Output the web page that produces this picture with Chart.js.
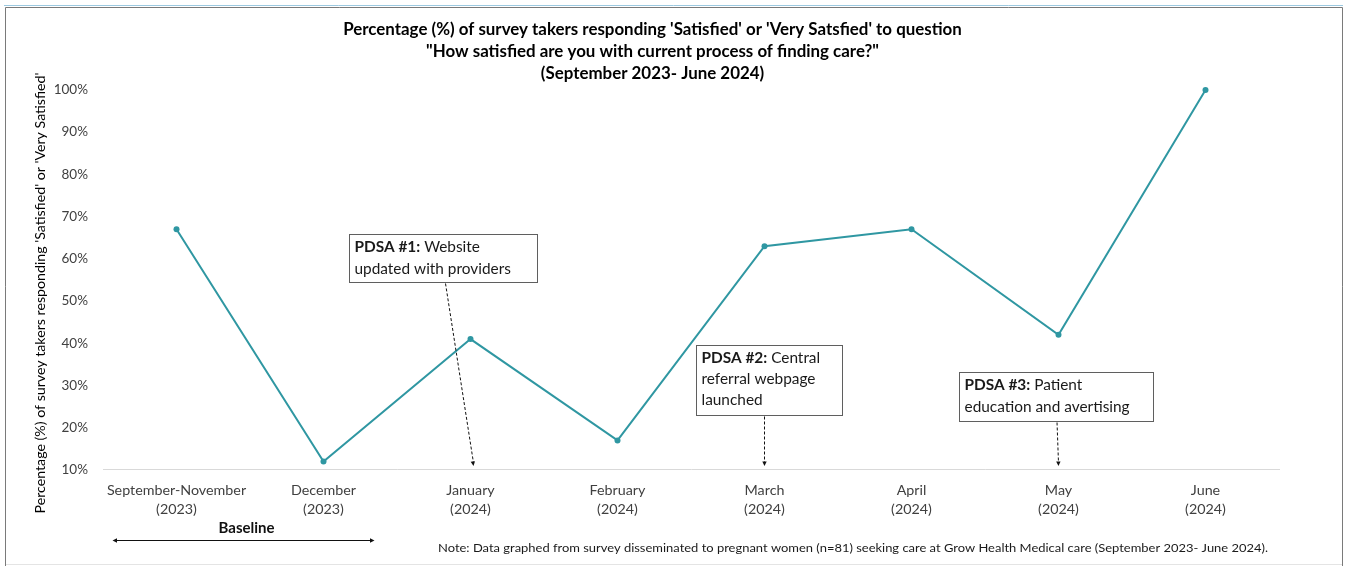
<!DOCTYPE html>
<html lang="en">
<head>
    <meta charset="UTF-8">
    <title>Satisfaction with finding care</title>
    <script src="https://cdn.jsdelivr.net/npm/chart.js@4.4.1/dist/chart.umd.min.js"></script>
    <style>
        html, body { margin: 0; padding: 0; background: #fff; }
        #wrap { position: relative; width: 1348px; height: 566px; }
    </style>
</head>
<body>
    <div id="wrap"><canvas id="chart"></canvas></div>

    <script>
        // Survey periods (two-line axis labels)
        const periods = [
            ['September-November', '(2023)'],
            ['December', '(2023)'],
            ['January', '(2024)'],
            ['February', '(2024)'],
            ['March', '(2024)'],
            ['April', '(2024)'],
            ['May', '(2024)'],
            ['June', '(2024)']
        ];
        // % answering Satisfied / Very Satisfied
        const satisfiedPct = [67, 12, 41, 17, 63, 67, 42, 100];
        const yTicks = [10, 20, 30, 40, 50, 60, 70, 80, 90, 100];

        const titleLines = [
            "Percentage (%) of survey takers responding 'Satisfied' or 'Very Satsfied' to question",
            '"How satisfied are you with current process of finding care?"',
            '(September 2023- June 2024)'
        ];
        const yTitle = "Percentage (%) of survey takers responding 'Satisfied' or 'Very Satisfied'";
        const noteText = 'Note: Data graphed from survey disseminated to pregnant women (n=81) seeking care at Grow Health Medical care (September 2023- June 2024).';

        // PDSA cycle callouts: bold lead, remaining lines, and the period each one points at
        const pdsaLeads = ['PDSA #1:', 'PDSA #2:', 'PDSA #3:'];
        const pdsaLines = [
            [' Website', 'updated with providers'],
            [' Central', 'referral webpage', 'launched'],
            [' Patient', 'education and avertising']
        ];
        const pdsaTargets = [2, 4, 6];

        // where each callout box sits (x in category units, top in axis units)
        const boxLayout = [
            { cx: 1.816, top: 65.9, w: 188, h: 48, from: 1.83, lh: 22 },
            { cx: 4.03, top: 39.6, w: 146, h: 70, from: 4.0, lh: 21 },
            { cx: 5.98, top: 33.2, w: 194, h: 49, from: 5.99, lh: 22 }
        ];

        const FONT = 'Lato, "Open Sans", sans-serif';
        const teal = '#2f97a2';

        function arrowHead(ctx, x, y, ang, size) {
            ctx.beginPath();
            ctx.moveTo(x, y);
            ctx.lineTo(x - size * Math.cos(ang - 0.45), y - size * Math.sin(ang - 0.45));
            ctx.lineTo(x - size * Math.cos(ang + 0.45), y - size * Math.sin(ang + 0.45));
            ctx.closePath();
            ctx.fill();
        }

        const extras = {
            id: 'extras',
            beforeDraw(chart) {
                const ctx = chart.ctx;
                ctx.save();
                ctx.fillStyle = '#fff';
                ctx.fillRect(0, 0, chart.width, chart.height);
                // outer frame
                ctx.strokeStyle = '#9cc9e0';
                ctx.lineWidth = 1;
                ctx.beginPath(); ctx.moveTo(4, 5.5); ctx.lineTo(1343, 5.5); ctx.stroke();
                ctx.strokeStyle = '#7a7a7a';
                ctx.beginPath();
                ctx.moveTo(5.5, 566); ctx.lineTo(5.5, 7.5); ctx.lineTo(1342.5, 7.5); ctx.lineTo(1342.5, 566);
                ctx.stroke();
                ctx.strokeStyle = '#e4e4e4';
                ctx.beginPath(); ctx.moveTo(6, 564.5); ctx.lineTo(1342, 564.5); ctx.stroke();

                // y axis title
                ctx.translate(40, 293);
                ctx.rotate(-Math.PI / 2);
                ctx.fillStyle = '#000';
                ctx.font = '14.2px ' + FONT;
                ctx.textAlign = 'center';
                ctx.textBaseline = 'middle';
                ctx.fillText(yTitle, 0, 0);
                ctx.restore();
            },
            afterDatasetsDraw(chart) {
                const ctx = chart.ctx;
                const xs = chart.scales.x, ys = chart.scales.y;
                ctx.save();

                // PDSA callouts with dashed arrows
                boxLayout.forEach((b, i) => {
                    const cx = xs.getPixelForValue(b.cx);
                    const left = Math.round(cx - b.w / 2) + 0.5;
                    const top = Math.round(ys.getPixelForValue(b.top)) + 0.5;

                    const sx = xs.getPixelForValue(b.from);
                    const tx = xs.getPixelForValue(pdsaTargets[i]) + (i === 0 ? 3 : 0);
                    const ty = ys.getPixelForValue(10) - 4;
                    const sy = top + b.h + 1;
                    ctx.strokeStyle = '#111';
                    ctx.fillStyle = '#111';
                    ctx.lineWidth = 1;
                    ctx.setLineDash([3, 2]);
                    ctx.beginPath(); ctx.moveTo(sx, sy); ctx.lineTo(tx, ty - 3); ctx.stroke();
                    ctx.setLineDash([]);
                    arrowHead(ctx, tx, ty, Math.atan2(ty - sy, tx - sx), 5);

                    ctx.fillStyle = '#fff';
                    ctx.fillRect(left, top, b.w, b.h);
                    ctx.strokeStyle = '#5f5f5f';
                    ctx.strokeRect(left, top, b.w, b.h);

                    ctx.fillStyle = '#1a1a1a';
                    ctx.textBaseline = 'middle';
                    ctx.textAlign = 'left';
                    let y = top + 13;
                    ctx.font = 'bold 15.4px ' + FONT;
                    ctx.fillText(pdsaLeads[i], left + 5, y);
                    const lw = ctx.measureText(pdsaLeads[i]).width;
                    ctx.font = '15.4px ' + FONT;
                    ctx.fillText(pdsaLines[i][0], left + 5 + lw, y);
                    for (let k = 1; k < pdsaLines[i].length; k++) {
                        y += b.lh;
                        ctx.fillText(pdsaLines[i][k], left + 5, y);
                    }
                });
                ctx.restore();
            },
            afterDraw(chart) {
                const ctx = chart.ctx;
                const xs = chart.scales.x;
                ctx.save();
                // baseline span under the first two periods
                const x0 = xs.getPixelForValue(0) - 64;
                const x1 = xs.getPixelForValue(1) + 51;
                ctx.fillStyle = '#111';
                ctx.strokeStyle = '#111';
                ctx.lineWidth = 1;
                ctx.font = 'bold 15px ' + FONT;
                ctx.textAlign = 'center';
                ctx.textBaseline = 'middle';
                ctx.fillText('Baseline', (x0 + x1) / 2 + 3, 528);
                ctx.beginPath(); ctx.moveTo(x0 + 3, 540.5); ctx.lineTo(x1 - 3, 540.5); ctx.stroke();
                arrowHead(ctx, x0, 540.5, Math.PI, 5);
                arrowHead(ctx, x1, 540.5, 0, 5);

                // footnote
                ctx.font = '12px ' + FONT;
                ctx.textAlign = 'left';
                ctx.fillStyle = '#1a1a1a';
                const target = 830;
                const w = ctx.measureText(noteText).width;
                ctx.translate(438, 548);
                ctx.scale(target / w, 1);
                ctx.fillText(noteText, 0, 0);
                ctx.restore();
            }
        };

        new Chart(document.getElementById('chart'), {
            type: 'line',
            data: {
                labels: periods,
                datasets: [{
                    data: satisfiedPct,
                    borderColor: teal,
                    backgroundColor: teal,
                    borderWidth: 2,
                    pointRadius: 3,
                    pointBackgroundColor: teal,
                    pointBorderWidth: 0,
                    tension: 0,
                    clip: false
                }]
            },
            options: {
                responsive: true,
                maintainAspectRatio: false,
                animation: false,
                layout: { padding: { left: 26, right: 69, top: 0, bottom: 36 } },
                plugins: {
                    legend: { display: false },
                    tooltip: { enabled: false },
                    title: {
                        display: true,
                        text: titleLines,
                        color: '#000',
                        font: { family: FONT, size: 16.9, weight: 'bold', lineHeight: 1.3 },
                        padding: { top: 19, bottom: 5 }
                    }
                },
                scales: {
                    x: {
                        offset: true,
                        grid: { display: false, drawTicks: false },
                        border: { display: true, color: '#d9d9d9', width: 1 },
                        ticks: {
                            color: '#404040',
                            font: { family: FONT, size: 14.3, lineHeight: 1.33 },
                            padding: 11,
                            maxRotation: 0,
                            autoSkip: false
                        }
                    },
                    y: {
                        min: 10,
                        max: 100,
                        afterBuildTicks(scale) {
                            scale.ticks = yTicks.map(v => ({ value: v }));
                        },
                        afterFit(scale) { scale.width = 77; },
                        grid: { display: false, drawTicks: false },
                        border: { display: false },
                        ticks: {
                            color: '#404040',
                            font: { family: FONT, size: 13.5 },
                            padding: 15,
                            callback: v => v + '%'
                        }
                    }
                }
            },
            plugins: [extras]
        });
    </script>
</body>
</html>
